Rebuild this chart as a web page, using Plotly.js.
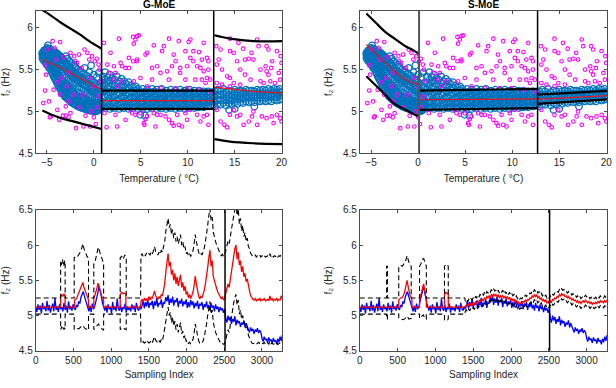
<!DOCTYPE html>
<html>
<head>
<meta charset="utf-8">
<script src="https://cdn.plot.ly/plotly-3.0.1.min.js"></script>
<style>
  html, body { margin: 0; padding: 0; background: #ffffff; }
  #chart { width: 616px; height: 388px; }
</style>
</head>
<body>
<div id="chart"></div>
<script>
// ---------------- Temperature vs f2 observations ----------------
// Normal-condition observations, grouped as [temperature, [f2 values]]
const obsColsCold = [
  [-5.5, [5.64, 5.68, 5.70]], [-5.4, [5.62, 5.66, 5.71]], [-5.3, [5.60, 5.65, 5.69, 5.73]],
  [-5.2, [5.63, 5.67, 5.72]], [-5.1, [5.58, 5.62, 5.70, 5.74]], [-5.0, [5.57, 5.64, 5.68, 5.76]],
  [-4.9, [5.55, 5.60, 5.66, 5.72, 5.79]], [-4.8, [5.52, 5.58, 5.63, 5.70, 5.75]], [-4.7, [5.54, 5.61, 5.67, 5.72]],
  [-4.6, [5.50, 5.56, 5.62, 5.69, 5.74]], [-4.5, [5.47, 5.53, 5.59, 5.66, 5.71]], [-4.4, [5.45, 5.52, 5.58, 5.64, 5.70]],
  [-4.3, [5.42, 5.49, 5.55, 5.62, 5.69]], [-4.2, [5.40, 5.47, 5.53, 5.60, 5.67, 5.72]], [-4.1, [5.38, 5.45, 5.51, 5.58, 5.66]],
  [-4.0, [5.36, 5.43, 5.50, 5.57, 5.64, 5.70]], [-3.9, [5.33, 5.40, 5.47, 5.55, 5.63, 5.69]], [-3.8, [5.31, 5.38, 5.45, 5.61, 5.68]],
  [-3.7, [5.29, 5.36, 5.43, 5.52, 5.60, 5.67]], [-3.6, [5.27, 5.34, 5.41, 5.58, 5.66]], [-3.5, [5.25, 5.32, 5.39, 5.49, 5.57, 5.65]],
  [-3.4, [5.23, 5.30, 5.37, 5.55, 5.64]], [-3.3, [5.21, 5.28, 5.35, 5.47, 5.54, 5.62]], [-3.2, [5.20, 5.27, 5.34, 5.52, 5.61]],
  [-3.1, [5.18, 5.25, 5.32, 5.44, 5.51, 5.60]], [-3.0, [5.17, 5.24, 5.31, 5.50, 5.58, 5.66]], [-2.9, [5.16, 5.23, 5.30, 5.42, 5.49, 5.57]],
  [-2.8, [5.15, 5.22, 5.29, 5.47, 5.55, 5.63]], [-2.7, [5.14, 5.21, 5.28, 5.40, 5.46, 5.54]], [-2.6, [5.13, 5.20, 5.27, 5.45, 5.52, 5.60]],
  [-2.5, [5.12, 5.19, 5.26, 5.38, 5.44, 5.51]], [-2.4, [5.11, 5.18, 5.25, 5.43, 5.50, 5.58]], [-2.3, [5.10, 5.17, 5.24, 5.36, 5.42, 5.49]],
  [-2.2, [5.10, 5.16, 5.23, 5.41, 5.48, 5.56]], [-2.1, [5.09, 5.15, 5.22, 5.34, 5.40, 5.47]], [-2.0, [5.08, 5.14, 5.21, 5.39, 5.46, 5.54]],
  [-1.9, [5.08, 5.14, 5.20, 5.33, 5.45, 5.52]], [-1.8, [5.07, 5.13, 5.19, 5.37, 5.44]], [-1.7, [5.06, 5.12, 5.18, 5.30, 5.42, 5.50]],
  [-1.6, [5.06, 5.12, 5.18, 5.36, 5.43]], [-1.5, [5.05, 5.11, 5.17, 5.29, 5.40, 5.48]], [-1.4, [5.05, 5.11, 5.17, 5.34, 5.41]],
  [-1.3, [5.04, 5.10, 5.16, 5.27, 5.38, 5.47]], [-1.2, [5.04, 5.10, 5.16, 5.33, 5.40]], [-1.1, [5.04, 5.09, 5.15, 5.26, 5.37, 5.45]],
  [-1.0, [5.03, 5.09, 5.15, 5.31, 5.39, 5.52]], [-0.9, [5.03, 5.08, 5.14, 5.24, 5.36]], [-0.8, [5.03, 5.08, 5.14, 5.30, 5.43]],
  [-0.7, [5.02, 5.08, 5.13, 5.22, 5.35]], [-0.6, [5.02, 5.07, 5.13, 5.28, 5.41]], [-0.5, [5.02, 5.07, 5.12, 5.20, 5.33, 5.47]],
  [-0.4, [5.01, 5.07, 5.12, 5.26, 5.39]], [-0.3, [5.01, 5.06, 5.12, 5.19, 5.31, 5.55]], [-0.2, [5.01, 5.06, 5.11, 5.24, 5.37]],
  [-0.1, [5.01, 5.06, 5.11, 5.18, 5.29]], [0.0, [5.00, 5.05, 5.11, 5.22, 5.35, 5.44]], [0.1, [5.00, 5.05, 5.10, 5.17, 5.27]],
  [0.2, [5.00, 5.05, 5.10, 5.21, 5.33]], [0.3, [5.01, 5.05, 5.10, 5.16, 5.25, 5.41]], [0.4, [5.01, 5.05, 5.10, 5.20, 5.31]],
  [0.5, [5.02, 5.06, 5.11, 5.15, 5.24, 5.46]], [0.6, [5.03, 5.07, 5.12, 5.19, 5.29]], [0.7, [5.04, 5.08, 5.13, 5.22, 5.34]]
];
const obsColsMild = [
  [0.95, [5.05, 5.11, 5.18, 5.26, 5.34, 5.42]], [1.2, [5.04, 5.10, 5.17, 5.24, 5.31, 5.38, 5.47]],
  [1.45, [5.06, 5.12, 5.19, 5.27, 5.35, 5.41]], [1.7, [5.03, 5.09, 5.16, 5.23, 5.30, 5.37, 5.44]],
  [1.95, [5.05, 5.12, 5.18, 5.25, 5.33, 5.40]], [2.2, [5.04, 5.10, 5.17, 5.24, 5.31, 5.38]],
  [2.45, [5.06, 5.13, 5.20, 5.27, 5.34, 5.42]], [2.7, [5.03, 5.09, 5.15, 5.22, 5.29, 5.36]],
  [2.95, [5.05, 5.11, 5.18, 5.25, 5.32, 5.39]], [3.2, [5.04, 5.10, 5.16, 5.23, 5.30, 5.36]],
  [3.45, [5.06, 5.12, 5.19, 5.26, 5.33]], [3.7, [5.03, 5.09, 5.15, 5.22, 5.28, 5.35]],
  [3.95, [5.05, 5.11, 5.17, 5.24, 5.31]], [4.2, [5.04, 5.10, 5.16, 5.22, 5.29]],
  [4.45, [5.06, 5.12, 5.18, 5.25, 5.30]], [4.7, [5.03, 5.09, 5.15, 5.21, 5.27]],
  [4.95, [5.05, 5.11, 5.17, 5.23, 4.96]], [5.2, [5.04, 5.10, 5.16, 5.22, 5.27]],
  [5.45, [5.06, 5.12, 5.18, 5.24, 4.95]], [5.7, [5.03, 5.09, 5.14, 5.20, 5.26]],
  [5.95, [5.05, 5.11, 5.17, 5.23]], [6.2, [5.04, 5.10, 5.15, 5.21, 5.27]],
  [6.45, [5.06, 5.12, 5.18, 5.24]], [6.7, [5.03, 5.08, 5.14, 5.20, 5.26]],
  [6.95, [5.05, 5.11, 5.16, 5.22]], [7.2, [5.04, 5.09, 5.15, 5.21, 5.27]],
  [7.45, [5.06, 5.12, 5.18, 5.23]], [7.7, [5.03, 5.08, 5.14, 5.20, 5.25]],
  [7.95, [5.05, 5.10, 5.16, 5.22]], [8.2, [5.04, 5.09, 5.15, 5.21, 5.26]],
  [8.45, [5.06, 5.11, 5.17, 5.23]], [8.7, [5.03, 5.08, 5.14, 5.20, 5.25]],
  [8.95, [5.05, 5.10, 5.16, 5.22]], [9.2, [5.04, 5.09, 5.15, 5.21, 5.26]],
  [9.45, [5.06, 5.11, 5.17, 5.23]], [9.7, [5.03, 5.08, 5.14, 5.19, 5.25]],
  [9.95, [5.05, 5.10, 5.16, 5.22]], [10.2, [5.04, 5.09, 5.15, 5.20, 5.26]],
  [10.45, [5.06, 5.11, 5.17, 5.23]], [10.7, [5.04, 5.09, 5.14, 5.20, 5.25]],
  [10.95, [5.05, 5.10, 5.16, 5.22]], [11.2, [5.05, 5.09, 5.15, 5.20, 5.25]],
  [11.45, [5.06, 5.11, 5.17, 5.22]], [11.7, [5.05, 5.10, 5.14, 5.19, 5.24]],
  [11.95, [5.07, 5.12, 5.17, 5.22]], [12.2, [5.06, 5.11, 5.15, 5.20, 5.24]],
  [12.45, [5.07, 5.12, 5.17, 5.22]], [12.7, [5.08, 5.13, 5.18, 5.23]]
];
const obsColsWarm = [
  [12.9, [5.06, 5.12, 5.18, 5.24]], [13.2, [5.09, 5.14, 5.20, 5.26]], [13.5, [5.08, 5.13, 5.19, 5.24]],
  [13.8, [5.10, 5.15, 5.21, 5.27]], [14.1, [5.07, 5.13, 5.18, 5.23]], [14.4, [5.10, 5.15, 5.20, 5.25, 5.02]],
  [14.7, [5.08, 5.13, 5.19, 5.24]], [15.0, [5.11, 5.16, 5.21, 5.26, 5.03]], [15.3, [5.09, 5.14, 5.19, 5.24]],
  [15.6, [5.11, 5.16, 5.21, 5.25]], [15.9, [5.10, 5.15, 5.20, 5.24]], [16.2, [5.12, 5.17, 5.22, 5.26]],
  [16.5, [5.11, 5.16, 5.21, 5.25]], [16.8, [5.12, 5.17, 5.21, 5.25]], [17.1, [5.11, 5.16, 5.20, 5.24, 5.06]],
  [17.4, [5.13, 5.17, 5.22, 5.26]], [17.7, [5.12, 5.16, 5.21, 5.25]], [18.0, [5.13, 5.17, 5.22, 5.26]],
  [18.3, [5.12, 5.16, 5.21, 5.25]], [18.6, [5.13, 5.18, 5.22, 5.27]], [18.9, [5.12, 5.17, 5.21, 5.25]],
  [19.2, [5.14, 5.18, 5.23, 5.27]], [19.5, [5.13, 5.17, 5.22, 5.26]], [19.8, [5.14, 5.19, 5.23, 5.27]],
  [20.0, [5.15, 5.19, 5.24]]
];

// Abnormal (damaged-state) samples as [temperature, f2]
const outlierPts = [
  [-4.4,5.84],[-3.6,5.83],[-5.0,5.74],[-4.2,5.76],[-2.5,5.70],[-1.6,5.68],[-0.7,5.70],[-0.2,5.66],[0.3,5.63],[-1.0,5.74],
  [-2.1,5.66],[-0.5,5.62],[-1.8,5.58],[0.5,5.56],[0.6,5.50],[-2.7,5.46],[-3.4,5.40],[-3.9,5.35],[-5.1,5.44],[-5.2,5.25],
  [-4.3,5.26],[-3.6,5.20],[-2.7,5.12],[-3.0,5.06],[-3.9,5.02],[-4.6,4.94],[-1.9,4.80],[-1.1,4.82],[-0.4,4.82],[0.2,4.85],
  [-3.0,4.95],[-2.5,4.98],[-0.9,4.95],[-0.3,5.00],[0.4,5.05],[-1.5,5.05],[-4.8,5.12],[-0.1,5.30],[-0.5,5.40],[0.1,5.60],
  [-1.3,5.52],[-2.0,5.60],[-3.2,5.65],[0.7,5.36],[-4.0,5.62],[-2.9,5.30],[-5.4,5.10],[-4.7,4.93],[-3.3,4.95],[-2.7,4.93],
  [0.0,4.93],[-2.2,5.20],[-1.2,5.20],[0.5,5.18],[-5.2,5.55],[-3.7,4.90],
  [1.06,5.82],[2.3,5.46],[2.66,5.87],[4.18,5.89],[4.43,5.86],[4.6,5.90],[4.78,5.91],[4.25,5.81],[3.72,5.64],[4.18,5.60],
  [4.6,5.60],[5.5,5.68],[5.67,5.70],[6.38,5.79],[7.27,5.72],[7.45,5.78],[8.0,5.87],[8.5,5.68],[9.04,5.84],[10.28,5.86],
  [10.1,5.83],[9.75,5.72],[10.6,5.72],[11.2,5.71],[11.7,5.82],[11.5,5.62],[12.05,5.64],[12.2,5.60],[1.77,5.70],[1.42,5.56],
  [2.13,5.54],[3.0,5.54],[3.37,5.52],[3.72,5.52],[2.84,5.58],[4.6,5.62],[6.2,5.52],[6.74,5.54],[7.1,5.46],[7.8,5.48],
  [8.33,5.54],[8.7,5.60],[9.2,5.52],[9.93,5.54],[10.28,5.64],[10.6,5.60],[11.0,5.54],[11.35,5.52],[11.7,5.48],[12.2,5.50],
  [7.98,5.38],[9.2,5.46],[9.75,5.38],[10.8,5.38],[11.5,5.38],[12.05,5.40],[11.9,5.34],[6.2,5.38],[4.96,5.40],[4.25,5.36],
  [3.0,5.36],[2.13,5.38],[1.6,5.46],[2.48,5.30],[5.67,5.30],[7.1,5.28],[8.7,5.28],[9.93,5.28],[11.2,5.26],[12.4,5.38],
  [12.4,5.24],[1.13,4.98],[1.35,4.81],[2.3,4.96],[2.48,4.82],[3.9,5.02],[4.08,4.98],[4.43,4.96],[4.96,4.98],[5.32,4.86],
  [5.39,4.84],[5.5,4.91],[6.38,4.98],[6.56,4.82],[6.74,4.96],[7.63,4.94],[8.0,4.90],[8.33,4.86],[8.5,4.83],[9.04,4.84],
  [9.4,4.82],[9.75,4.98],[9.93,4.90],[10.28,5.02],[11.0,4.96],[11.35,4.88],[11.7,4.94],[12.05,4.96],[12.2,4.84],[3.37,4.90],
  [5.67,4.94],[7.1,4.96],[8.87,4.96],
  [13.05,5.78],[13.5,5.74],[14.5,5.72],[14.9,5.70],[15.25,5.60],[15.4,5.82],[14.5,5.87],[16.1,5.62],[16.5,5.63],[17.0,5.62],
  [17.4,5.86],[17.55,5.78],[18.4,5.78],[18.6,5.74],[19.5,5.72],[20.0,5.58],[13.1,5.56],[13.65,5.50],[14.2,5.42],[14.5,5.40],
  [14.9,5.34],[15.6,5.50],[16.1,5.44],[16.7,5.38],[17.75,5.50],[18.3,5.54],[18.4,5.48],[18.6,5.44],[18.8,5.36],[19.3,5.34],
  [19.7,5.46],[19.85,5.38],[13.1,5.34],[13.65,5.32],[14.5,5.30],[15.6,5.32],[17.75,5.36],[18.1,5.34],[13.3,5.62],[16.8,5.70],
  [19.0,5.60],[19.9,5.66],[15.9,5.75],[18.9,5.52],
  [13.1,5.02],[13.5,4.88],[13.9,4.84],[14.2,4.81],[14.5,4.96],[14.9,5.02],[15.6,4.96],[15.95,4.84],[16.5,4.88],[16.85,4.94],
  [17.4,4.84],[17.9,4.94],[18.4,4.92],[18.96,4.94],[19.15,4.86],[19.5,4.96],[19.85,4.92],[20.0,4.88],[17.0,5.00],[15.25,4.94]
];

// ---------------- Mixture-of-experts fits (per temperature regime) ----------------
// G-MoE
const gBreaks = [0.82, 12.77];
const gT1 = [-5.5, -4.5, -3.5, -2.5, -1.5, -0.5, 0.82];
const gUpper1 = [6.21, 6.14, 6.06, 5.99, 5.92, 5.84, 5.75];
const gMean1  = [5.62, 5.57, 5.52, 5.46, 5.40, 5.34, 5.26];
const gLower1 = [5.01, 4.96, 4.92, 4.89, 4.86, 4.83, 4.79];
const gT2 = [0.82, 12.77];
const gUpper2 = [5.25, 5.25];
const gMean2  = [5.13, 5.13];
const gLower2 = [5.03, 5.03];
const gT3 = [12.85, 14.5, 17.0, 20.1];
const gUpper3 = [5.91, 5.87, 5.84, 5.84];
const gMean3  = [5.29, 5.27, 5.24, 5.22];
const gLower3 = [4.67, 4.64, 4.62, 4.61];
// S-MoE
const sBreaks = [0.1, 12.7];
const sT1 = [-5.5, -4.5, -3.5, -2.5, -1.5, -0.5, 0.1];
const sUpper1 = [6.17, 6.06, 5.95, 5.87, 5.79, 5.73, 5.69];
const sMean1  = [5.80, 5.69, 5.58, 5.48, 5.39, 5.34, 5.32];
const sLower1 = [5.42, 5.31, 5.20, 5.09, 5.03, 4.97, 4.94];
const sT2 = [0.1, 12.7];
const sUpper2 = [5.25, 5.27];
const sMean2  = [5.14, 5.15];
const sLower2 = [5.02, 5.04];
const sT3 = [12.7, 20.1];
const sUpper3 = [5.20, 5.245];
const sMean3  = [5.145, 5.19];
const sLower3 = [5.09, 5.145];

// ---------------- Monitoring sequence ----------------
const SAMPLE_STEP = 15;
const changeIndex = 2510;
// measured f2, every 15th sample from index 0
const measuredF2 = [
  5.12,5.05,5.16,5.08,5.14,5.03,5.18,5.09,5.13,5.06,5.21,5.07,5.15,5.04,5.11,5.17,5.06,5.25,5.08,5.13,5.05,5.16,5.09,
  5.12,5.06,5.18,5.08,5.14,5.04,5.20,5.09,5.13,5.07,5.16,5.10,
  5.08,5.15,5.12,5.20,5.17,5.26,5.30,5.34,5.28,5.22,5.15,5.10,5.06,
  5.14,5.05,5.17,5.09,5.12,
  5.18,5.24,5.33,5.42,5.36,5.27,5.18,5.10,
  5.07,5.14,5.04,5.16,5.09,5.12,5.03,5.19,5.08,5.13,5.06,5.24,5.10,5.07,5.15,5.05,5.12,5.09,5.17,5.04,5.13,5.08,5.11,5.06,5.16,5.09,5.14,5.05,5.18,5.10,5.07,5.13,5.09,
  5.14,5.22,5.10,5.19,5.13,5.24,5.11,5.18,5.15,5.21,5.09,5.20,5.14,5.25,5.12,5.18,5.16,5.23,5.11,5.19,
  5.17,5.26,5.20,5.29,5.15,5.24,5.18,5.27,5.14,5.22,5.19,5.25,5.12,5.21,5.17,5.24,5.13,5.20,5.16,5.23,5.11,
  5.19,5.12,5.22,5.15,5.20,5.10,5.18,5.13,5.21,5.09,5.17,5.14,5.19,5.08,5.16,5.12,5.20,5.10,5.15,5.07,5.18,5.11,5.14,5.06,5.16,5.09,5.13,5.05,5.12,5.08,5.10,5.04,5.09,
  4.96,4.90,5.00,4.93,4.98,4.88,4.95,4.91,4.99,4.86,4.94,4.89,4.92,4.84,4.90,4.87,4.93,4.83,4.89,4.85,
  4.80,4.76,4.83,4.78,4.81,4.74,4.80,4.77,4.82,4.75,4.79,4.76,
  4.68,4.63,4.70,4.65,4.67,4.61,4.69,4.64,4.66,4.60,4.68,4.63,4.65,4.59,4.67,4.62,4.70,4.64,4.72
];
const TAIL_START = 1395;

// G-MoE prediction and bounds: regime-switch part (index, value) + sampled tail
const gPredStepX = [0,330,330,345,360,375,390,390,515,515,540,565,590,610,625,640,660,680,700,700,770,770,790,810,825,840,860,880,900,900,1120,1120,1140,1160,1180,1195,1195,1390];
const gPredStepY = [5.12,5.12,5.26,5.30,5.27,5.31,5.28,5.12,5.12,5.22,5.24,5.30,5.36,5.42,5.47,5.40,5.33,5.27,5.22,5.12,5.12,5.24,5.30,5.38,5.46,5.40,5.32,5.26,5.22,5.12,5.12,5.30,5.33,5.31,5.32,5.30,5.12,5.12];
const gPredTail = [
  5.20,5.23,5.19,5.25,5.21,5.24,5.20,5.27,
  5.22,5.26,5.24,5.30,5.35,5.28,5.25,5.23,5.27,5.24,5.30,5.28,5.36,
  5.45,5.62,5.80,5.88,5.70,5.76,5.58,
  5.65,5.50,5.60,5.45,5.55,5.42,5.52,5.58,5.40,5.47,5.35,5.42,5.30,5.34,
  5.25,5.30,5.24,5.28,5.33,5.42,5.56,5.45,5.35,5.28,5.24,5.27,
  5.25,5.30,5.36,5.45,5.55,5.68,5.82,5.93,5.70,5.78,5.55,5.48,5.42,5.38,
  5.33,5.30,5.27,5.24,5.26,5.22,5.25,
  5.32,5.38,5.45,5.40,5.52,5.60,5.70,5.82,5.95,6.00,5.80,5.90,5.72,5.78,
  5.62,5.70,5.55,5.60,5.48,5.52,5.40,5.35,5.28,5.25,5.23,
  5.22,5.24,5.21,5.23,5.22,5.25,5.21,5.23,5.22,5.24,5.21,5.22,5.23,5.21,5.28,5.22,5.24,5.21,5.23,5.22,5.25,5.21,5.23,5.22,5.28,5.24
];
const gUpperStepX = [0,330,330,340,355,370,385,390,390,510,510,530,550,570,590,610,625,640,660,680,695,700,700,770,770,790,810,830,850,870,890,900,900,1120,1120,1140,1160,1180,1200,1200,1390];
const gUpperStepY = [5.25,5.25,5.78,5.72,5.80,5.70,5.78,5.75,5.25,5.25,5.82,5.84,5.83,5.86,5.90,5.96,6.02,5.95,5.88,5.84,5.82,5.80,5.25,5.25,5.74,5.78,5.88,5.97,5.90,5.82,5.76,5.74,5.25,5.25,5.82,5.84,5.80,5.86,5.82,5.25,5.25];
const gUpperTail = [
  5.85,5.88,5.84,5.87,5.85,5.89,5.86,5.88,
  5.86,5.90,5.87,5.92,5.98,5.91,5.88,5.86,5.90,5.87,5.93,5.90,5.98,
  6.05,6.20,6.32,6.38,6.25,6.30,6.15,
  6.22,6.10,6.18,6.05,6.12,6.02,6.10,6.15,6.00,6.05,5.95,5.98,5.88,5.90,
  5.85,5.88,5.84,5.87,5.92,6.02,6.15,6.05,5.95,5.90,5.86,5.88,
  5.86,5.90,5.96,6.05,6.15,6.28,6.42,6.52,6.35,6.40,6.18,6.10,6.05,6.00,
  5.95,5.92,5.88,5.85,5.87,5.84,5.86,
  5.92,5.98,6.06,6.02,6.15,6.22,6.32,6.45,6.55,6.60,6.42,6.52,6.30,6.38,
  6.20,6.28,6.12,6.18,6.05,6.10,5.98,5.95,5.88,5.86,5.84,
  5.84,5.86,5.83,5.85,5.84,5.86,5.83,5.85,5.84,5.86,5.83,5.84,5.85,5.83,5.88,5.84,5.86,5.83,5.85,5.84,5.86,5.83,5.85,5.84,5.88,5.86
];
const gLowerStepX = [0,330,330,345,360,375,390,390,510,510,540,570,600,625,650,680,700,700,770,770,800,830,860,890,900,900,1120,1120,1150,1180,1200,1200,1390];
const gLowerStepY = [5.02,5.02,4.80,4.84,4.79,4.83,4.80,5.02,5.02,4.80,4.82,4.81,4.84,4.86,4.82,4.80,4.79,5.02,5.02,4.80,4.84,4.88,4.83,4.80,4.79,5.02,5.02,4.80,4.83,4.81,4.80,5.02,5.02];
const gLowerTail = [
  4.62,4.60,4.63,4.61,4.62,4.60,4.63,4.61,
  4.62,4.64,4.61,4.66,4.70,4.65,4.62,4.61,4.64,4.62,4.66,4.64,4.72,
  4.82,4.95,5.08,5.12,5.00,5.05,4.90,
  4.98,4.85,4.92,4.80,4.88,4.76,4.84,4.90,4.74,4.78,4.68,4.72,4.63,4.65,
  4.60,4.62,4.60,4.63,4.66,4.75,4.88,4.80,4.70,4.64,4.61,4.62,
  4.61,4.64,4.70,4.78,4.88,5.00,5.12,5.20,5.02,5.08,4.90,4.82,4.76,4.72,
  4.68,4.64,4.62,4.60,4.61,4.59,4.60,
  4.66,4.72,4.80,4.76,4.88,4.96,5.06,5.18,5.25,5.30,5.15,5.22,5.02,5.08,
  4.95,5.00,4.88,4.92,4.80,4.84,4.72,4.68,4.63,4.61,4.60,
  4.60,4.61,4.59,4.60,4.62,4.60,4.59,4.61,4.60,4.62,4.59,4.60,4.61,4.59,4.64,4.60,4.61,4.59,4.60,4.61,4.62,4.59,4.60,4.61,4.64,4.62
];

// S-MoE prediction and bounds
const sPredStepX = [0,515,515,540,565,590,610,625,645,665,685,690,690,790,790,810,830,845,860,875,880,880,1120,1120,1140,1160,1170,1170,1390];
const sPredStepY = [5.12,5.12,5.22,5.25,5.26,5.32,5.42,5.50,5.38,5.28,5.25,5.22,5.12,5.12,5.22,5.30,5.40,5.45,5.35,5.26,5.22,5.12,5.12,5.30,5.33,5.31,5.30,5.12,5.12];
const sPredTail = [
  5.12,5.15,5.13,5.16,5.14,5.17,5.15,5.18,
  5.16,5.19,5.17,5.21,5.19,5.22,5.20,5.23,5.21,5.25,5.23,5.27,5.25,
  5.28,5.26,5.30,5.27,5.31,5.28,5.30,
  5.27,5.29,5.25,5.28,5.26,5.29,5.25,5.27,5.24,5.27,5.23,5.26,5.22,5.24,
  5.21,5.23,5.19,5.21,5.17,5.19,5.16,5.18,5.17,5.20,5.19,5.22,
  5.20,5.23,5.22,5.25,5.24,5.28,5.26,5.30,5.27,5.29,5.25,5.27,5.23,5.25,
  5.21,5.23,5.20,5.22,5.18,5.20,5.17,
  5.21,5.19,5.23,5.22,5.25,5.24,5.27,5.26,5.30,5.28,5.31,5.29,5.30,5.27,
  5.28,5.25,5.27,5.24,5.25,5.22,5.24,5.21,5.22,5.19,5.21,
  5.18,5.20,5.17,5.19,5.21,5.19,5.22,5.20,5.18,5.20,5.17,5.19,5.16,5.18,5.17,5.19,5.17,5.20,5.18,5.21,5.19,5.20,5.18,5.21,5.19,5.22
];
const sUpperStepX = [0,355,355,365,365,515,515,540,565,590,610,625,640,660,680,680,790,790,810,830,845,860,880,880,1120,1120,1135,1150,1165,1170,1170,1390];
const sUpperStepY = [5.25,5.25,5.70,5.70,5.25,5.25,5.70,5.71,5.70,5.74,5.79,5.85,5.78,5.72,5.70,5.25,5.25,5.70,5.74,5.80,5.81,5.75,5.70,5.25,5.25,5.70,5.72,5.70,5.71,5.70,5.25,5.25];
const sUpperTail = [
  5.20,5.22,5.19,5.23,5.21,5.24,5.22,5.25,
  5.23,5.27,5.25,5.29,5.26,5.30,5.28,5.31,5.29,5.33,5.30,5.34,5.32,
  5.35,5.33,5.37,5.34,5.38,5.35,5.36,
  5.33,5.36,5.32,5.35,5.33,5.36,5.31,5.34,5.31,5.34,5.30,5.33,5.29,5.31,
  5.28,5.30,5.26,5.28,5.24,5.26,5.23,5.25,5.24,5.27,5.26,5.29,
  5.27,5.30,5.29,5.32,5.31,5.35,5.33,5.37,5.34,5.36,5.32,5.34,5.30,5.32,
  5.28,5.30,5.27,5.29,5.25,5.27,5.24,
  5.28,5.26,5.30,5.29,5.32,5.31,5.34,5.33,5.37,5.35,5.38,5.36,5.37,5.34,
  5.35,5.32,5.34,5.31,5.32,5.29,5.31,5.28,5.29,5.26,5.28,
  5.25,5.27,5.24,5.26,5.28,5.26,5.29,5.27,5.25,5.27,5.24,5.26,5.23,5.25,5.24,5.26,5.24,5.27,5.25,5.28,5.26,5.27,5.25,5.28,5.26,5.29
];
const sLowerStepX = [0,355,355,365,365,515,515,545,575,600,625,650,680,680,790,790,815,840,860,880,880,1120,1120,1140,1160,1170,1170,1390];
const sLowerStepY = [5.02,5.02,4.95,4.95,5.02,5.02,4.96,4.95,4.94,4.96,4.99,4.95,4.96,5.02,5.02,4.96,4.98,5.01,4.96,4.95,5.02,5.02,4.94,4.95,4.94,4.95,5.02,5.02];
const sLowerTail = [
  5.06,5.08,5.05,5.09,5.07,5.10,5.08,5.11,
  5.09,5.12,5.10,5.14,5.12,5.15,5.13,5.16,5.14,5.18,5.16,5.20,5.18,
  5.21,5.19,5.23,5.20,5.24,5.21,5.23,
  5.20,5.22,5.18,5.21,5.19,5.22,5.18,5.20,5.17,5.20,5.16,5.19,5.15,5.17,
  5.14,5.16,5.12,5.14,5.10,5.12,5.09,5.11,5.10,5.13,5.12,5.15,
  5.13,5.16,5.15,5.18,5.17,5.21,5.19,5.23,5.20,5.22,5.18,5.20,5.16,5.18,
  5.14,5.16,5.13,5.15,5.11,5.13,5.10,
  5.14,5.12,5.16,5.15,5.18,5.17,5.20,5.19,5.23,5.21,5.24,5.22,5.23,5.20,
  5.21,5.18,5.20,5.17,5.18,5.15,5.17,5.14,5.15,5.12,5.14,
  5.11,5.13,5.10,5.12,5.14,5.12,5.15,5.13,5.11,5.13,5.10,5.12,5.09,5.11,5.10,5.12,5.10,5.13,5.11,5.14,5.12,5.13,5.11,5.14,5.12,5.15
];

// axis ticks
const tempTicks = [-5, 0, 5, 10, 15, 20];
const f2TopTicks = [4.5, 5, 5.5, 6];
const idxTicks = [0, 500, 1000, 1500, 2000, 2500, 3000];
const f2BotTicks = [4.5, 5, 5.5, 6, 6.5];

// ---------------- build ----------------
const BLUE_OBS = '#0072BD';
const INK = '#262626';

function flattenCols(groups) {
  const t = [], f = [];
  groups.forEach(cols => cols.forEach(([T, ys]) => ys.forEach(y => { t.push(T); f.push(y); })));
  return { t, f };
}
const obs = flattenCols([obsColsCold, obsColsMild, obsColsWarm]);
const outT = outlierPts.map(p => p[0]);
const outF = outlierPts.map(p => p[1]);

function tailIndex(tail) { return tail.map((_, i) => TAIL_START + i * SAMPLE_STEP); }
const measuredX = measuredF2.map((_, i) => i * SAMPLE_STEP);

function scatterPanel(xa, ya, segs) {
  const tr = [];
  tr.push({ x: obs.t, y: obs.f, xaxis: xa, yaxis: ya, type: 'scatter', mode: 'markers',
    marker: { symbol: 'circle-open', size: 6.5, color: BLUE_OBS, line: { width: 1.3, color: BLUE_OBS } } });
  tr.push({ x: outT, y: outF, xaxis: xa, yaxis: ya, type: 'scatter', mode: 'markers',
    marker: { symbol: 'circle-open', size: 3.6, color: '#ff00ff', line: { width: 1.1, color: '#ff00ff' } } });
  segs.forEach(s => {
    tr.push({ x: s.t, y: s.up, xaxis: xa, yaxis: ya, mode: 'lines', line: { color: '#000', width: 2.2, shape: 'spline' } });
    tr.push({ x: s.t, y: s.lo, xaxis: xa, yaxis: ya, mode: 'lines', line: { color: '#000', width: 2.2, shape: 'spline' } });
    tr.push({ x: s.t, y: s.mu, xaxis: xa, yaxis: ya, mode: 'lines', line: { color: '#e8141b', width: 1.2, shape: 'spline' } });
  });
  return tr;
}

function seriesPanel(xa, ya, pred, upper, lower) {
  const dash = { color: '#000', width: 1.1, dash: '5px,3px' };
  return [
    { x: measuredX, y: measuredF2, xaxis: xa, yaxis: ya, mode: 'lines', line: { color: '#0000ff', width: 1.3 } },
    { x: pred.x, y: pred.y, xaxis: xa, yaxis: ya, mode: 'lines', line: { color: '#ff0000', width: 1.3 } },
    { x: upper.x, y: upper.y, xaxis: xa, yaxis: ya, mode: 'lines', line: dash },
    { x: lower.x, y: lower.y, xaxis: xa, yaxis: ya, mode: 'lines', line: dash }
  ];
}
function joined(stepX, stepY, tail) { return { x: stepX.concat(tailIndex(tail)), y: stepY.concat(tail) }; }

const traces = [].concat(
  scatterPanel('x', 'y', [
    { t: gT1, up: gUpper1, lo: gLower1, mu: gMean1 },
    { t: gT2, up: gUpper2, lo: gLower2, mu: gMean2 },
    { t: gT3, up: gUpper3, lo: gLower3, mu: gMean3 }
  ]),
  scatterPanel('x2', 'y2', [
    { t: sT1, up: sUpper1, lo: sLower1, mu: sMean1 },
    { t: sT2, up: sUpper2, lo: sLower2, mu: sMean2 },
    { t: sT3, up: sUpper3, lo: sLower3, mu: sMean3 }
  ]),
  seriesPanel('x3', 'y3', joined(gPredStepX, gPredStepY, gPredTail), joined(gUpperStepX, gUpperStepY, gUpperTail), joined(gLowerStepX, gLowerStepY, gLowerTail)),
  seriesPanel('x4', 'y4', joined(sPredStepX, sPredStepY, sPredTail), joined(sUpperStepX, sUpperStepY, sUpperTail), joined(sLowerStepX, sLowerStepY, sLowerTail))
);
traces.forEach(t => { t.type = 'scatter'; t.showlegend = false; t.hoverinfo = 'skip'; });

const axisBase = {
  showline: true, mirror: 'ticks', linecolor: '#4d4d4d', linewidth: 1,
  ticks: 'inside', ticklen: 3, tickwidth: 1, tickcolor: '#4d4d4d',
  showgrid: false, zeroline: false, fixedrange: true,
  tickfont: { size: 10, color: INK }
};
const titleFont = { size: 10, color: INK };
const xTop = (dom, anchor) => Object.assign({}, axisBase, {
  domain: dom, anchor: anchor, range: [-6.2, 20.1], tickvals: tempTicks,
  title: { text: 'Temperature ( °C)', font: titleFont, standoff: 7 }
});
const yTop = (dom, anchor) => Object.assign({}, axisBase, {
  domain: dom, anchor: anchor, range: [4.5, 6.2], tickvals: f2TopTicks,
  title: { text: 'f₂ (Hz)', font: titleFont, standoff: 8 }
});
const xBot = (dom, anchor) => Object.assign({}, axisBase, {
  domain: dom, anchor: anchor, range: [0, 3272], tickvals: idxTicks,
  title: { text: 'Sampling Index', font: titleFont, standoff: 6 }
});
const yBot = (dom, anchor) => Object.assign({}, axisBase, {
  domain: dom, anchor: anchor, range: [4.5, 6.5], tickvals: f2BotTicks,
  title: { text: 'f₂ (Hz)', font: titleFont, standoff: 8 }
});

const colL = [0.0580, 0.4586], colR = [0.5841, 0.9857];
const rowT = [0.6049, 0.9716], rowB = [0.0961, 0.4588];

const vline = (xref, yref, x, color, width) => ({
  type: 'line', xref: xref, yref: yref + ' domain', x0: x, x1: x, y0: 0, y1: 1,
  line: { color: color, width: width }, layer: 'above'
});

const layout = {
  width: 616, height: 388,
  margin: { l: 0, r: 0, t: 0, b: 0 },
  paper_bgcolor: '#ffffff', plot_bgcolor: '#ffffff',
  showlegend: false,
  font: { family: '"Liberation Sans", Arial, Helvetica, sans-serif', size: 10, color: INK },
  xaxis: xTop(colL, 'y'), yaxis: yTop(rowT, 'x'),
  xaxis2: xTop(colR, 'y2'), yaxis2: yTop(rowT, 'x2'),
  xaxis3: xBot(colL, 'y3'), yaxis3: yBot(rowB, 'x3'),
  xaxis4: xBot(colR, 'y4'), yaxis4: yBot(rowB, 'x4'),
  shapes: [
    vline('x', 'y', gBreaks[0], '#000', 1.5), vline('x', 'y', gBreaks[1], '#000', 1.5),
    vline('x2', 'y2', sBreaks[0], '#555', 2), vline('x2', 'y2', sBreaks[1], '#000', 1.5),
    vline('x3', 'y3', changeIndex, '#000', 1.5), vline('x4', 'y4', changeIndex, '#000', 1.5)
  ],
  annotations: [
    { text: '<b>G-MoE</b>', xref: 'paper', yref: 'paper', x: (colL[0] + colL[1]) / 2, y: 1 - 5 / 388,
      xanchor: 'center', yanchor: 'middle', showarrow: false, font: { size: 10, color: '#000' } },
    { text: '<b>S-MoE</b>', xref: 'paper', yref: 'paper', x: (colR[0] + colR[1]) / 2, y: 1 - 5 / 388,
      xanchor: 'center', yanchor: 'middle', showarrow: false, font: { size: 10, color: '#000' } }
  ]
};

Plotly.newPlot('chart', traces, layout, { staticPlot: true, displayModeBar: false });
</script>
</body>
</html>
